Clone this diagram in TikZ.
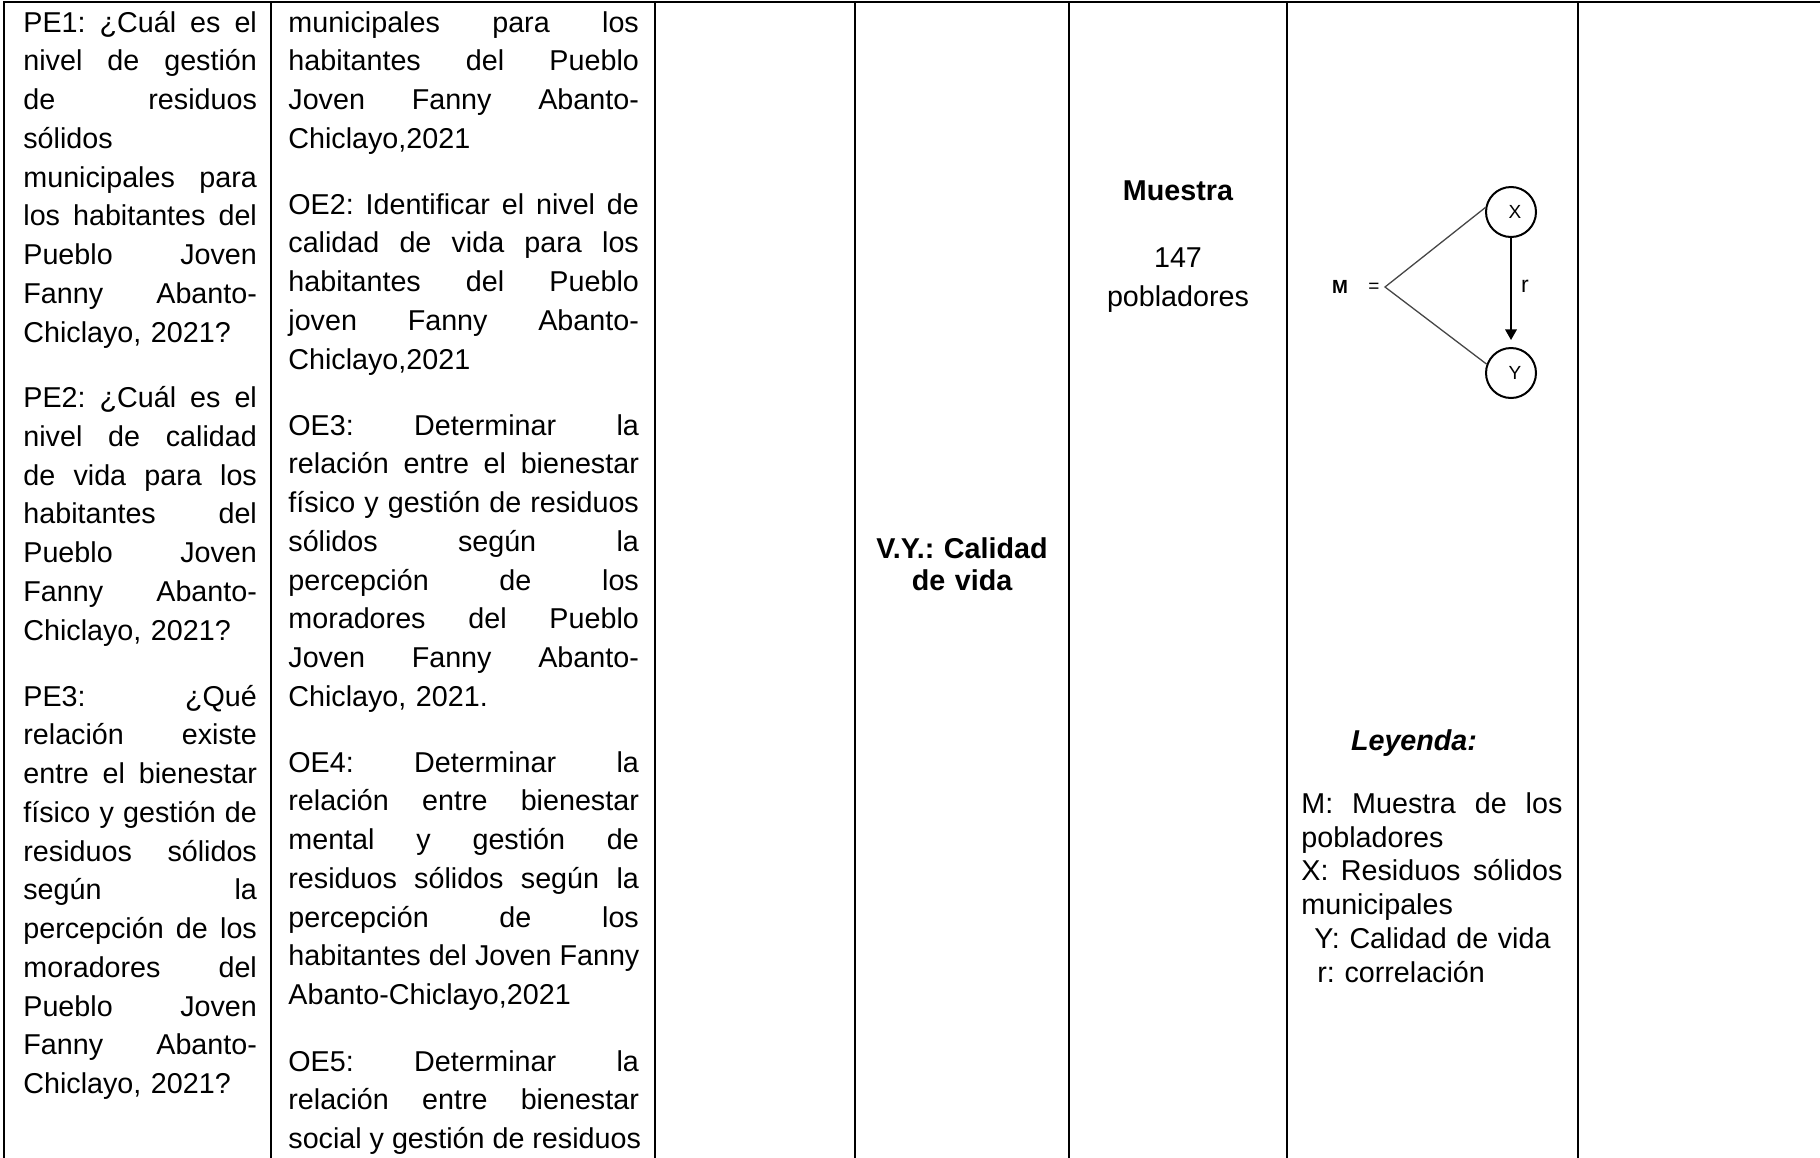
\documentclass[tikz,border=0pt]{standalone}
\usepackage{fontspec}
\setmainfont{Liberation Sans}
\usepackage{tikz}
\usetikzlibrary{arrows.meta,positioning}
\definecolor{diaggray}{RGB}{70,70,70}
\frenchspacing

% one justified line of a cell
\newcommand{\jl}[1]{\leavevmode\hbox to \hsize{\spaceskip=\fontdimen2\font plus 1fil\xspaceskip=\spaceskip #1}}

\begin{document}
\begin{tikzpicture}[x=0.5pt,y=-0.5pt,
  tableline/.style={line width=1.2pt, line cap=rect},
  celltext/.style={inner sep=0pt, anchor=base west, align=left,
    font=\fontsize{14.35pt}{19.375pt}\selectfont},
  smalltext/.style={inner sep=0pt, font=\fontsize{9.5pt}{11pt}\selectfont},
  varcirc/.style={draw, circle, line width=1pt, minimum size=25pt, inner sep=0pt,
    font=\fontsize{9.5pt}{11pt}\selectfont}]
  \useasboundingbox (0,0) rectangle (1820,1157);

  % Table rules
  \draw[tableline] (4,2) -- (1820,2);
  \foreach \cx in {4,271,655,855,1069,1287,1578}
    \draw[tableline] (\cx,2) -- (\cx,1157);

  % Problemas especificos
  \node[celltext, text width=116.75pt] (pe1) at (23,32) {
    \jl{PE1: ¿Cuál es el}\\ \jl{nivel de gestión}\\ \jl{de residuos}\\ sólidos\\
    \jl{municipales para}\\ \jl{los habitantes del}\\ \jl{Pueblo Joven}\\
    \jl{Fanny Abanto-}\\ Chiclayo, 2021?};
  \node[celltext, text width=116.75pt] (pe2) at (23,407.5) {
    \jl{PE2: ¿Cuál es el}\\ \jl{nivel de calidad}\\ \jl{de vida para los}\\
    \jl{habitantes del}\\ \jl{Pueblo Joven}\\ \jl{Fanny Abanto-}\\ Chiclayo, 2021?};
  \node[celltext, text width=116.75pt] (pe3) at (23,706) {
    \jl{PE3: ¿Qué}\\ \jl{relación existe}\\ \jl{entre el bienestar}\\
    \jl{físico y gestión de}\\ \jl{residuos sólidos}\\ \jl{según la}\\
    \jl{percepción de los}\\ \jl{moradores del}\\ \jl{Pueblo Joven}\\
    \jl{Fanny Abanto-}\\ Chiclayo, 2021?};

  % Objetivos especificos
  \node[celltext, text width=175.25pt] (oe1) at (288,32) {
    \jl{municipales para los}\\ \jl{habitantes del Pueblo}\\ \jl{Joven Fanny Abanto-}\\
    Chiclayo,2021};
  \node[celltext, text width=175.25pt] (oe2) at (288,214) {
    \jl{OE2: Identificar el nivel de}\\ \jl{calidad de vida para los}\\
    \jl{habitantes del Pueblo}\\ \jl{joven Fanny Abanto-}\\ Chiclayo,2021};
  \node[celltext, text width=175.25pt] (oe3) at (288,435) {
    \jl{OE3: Determinar la}\\ \jl{relación entre el bienestar}\\
    \jl{físico y gestión de residuos}\\ \jl{sólidos según la}\\ \jl{percepción de los}\\
    \jl{moradores del Pueblo}\\ \jl{Joven Fanny Abanto-}\\ Chiclayo, 2021.};
  \node[celltext, text width=175.25pt] (oe4) at (288,772) {
    \jl{OE4: Determinar la}\\ \jl{relación entre bienestar}\\ \jl{mental y gestión de}\\
    \jl{residuos sólidos según la}\\ \jl{percepción de los}\\
    \jl{habitantes del Joven Fanny}\\ Abanto-Chiclayo,2021};
  \node[celltext, text width=175.25pt] (oe5) at (288,1071) {
    \jl{OE5: Determinar la}\\ \jl{relación entre bienestar}\\
    \jl{social y gestión de residuos}};

  % Variable
  \node[celltext, anchor=base, text width=100pt, align=center,
    font=\fontsize{14.35pt}{16.25pt}\selectfont\bfseries] (vy) at (962,558)
    {V.Y.: Calidad\\ de vida};

  % Muestra
  \node[celltext, anchor=base, font=\fontsize{14.35pt}{19.375pt}\selectfont\bfseries]
    (muestra) at (1178,200) {Muestra};
  \node[celltext, anchor=base, text width=100pt, align=center] (pobl) at (1178,267.5)
    {147\\ pobladores};

  % Diseno correlacional
  \node[varcirc] (nx) at (1511,212) {\hspace{4pt}X};
  \node[varcirc] (ny) at (1511,373) {\hspace{4pt}Y};
  \node[smalltext, font=\fontsize{9.5pt}{11pt}\selectfont\bfseries] (nm) at (1340,287) {M};
  \node[smalltext] (eq) at (1374,288) {=};
  \coordinate (mp) at (1385,287);
  \draw[diaggray, line width=0.65pt] (nx.170) -- (mp) -- (ny.160);
  \draw[line width=0.8pt, -{Triangle[length=5.3pt,width=5.8pt]}, shorten >=3.5pt]
    (nx) -- (ny);
  \node[inner sep=0pt, font=\fontsize{11.5pt}{13pt}\selectfont] (nr) at (1525,286) {r};

  % Leyenda
  \node[celltext, anchor=base, font=\fontsize{14.35pt}{19.375pt}\selectfont\bfseries\itshape]
    (leyenda) at (1414,750) {Leyenda:};
  \node[celltext, text width=130.5pt, font=\fontsize{14.35pt}{16.85pt}\selectfont]
    (legend) at (1301,813.5) {
    \jl{M: Muestra de los}\\ pobladores\\ \jl{X: Residuos sólidos}\\ municipales\\
    \hspace*{6.5pt}Y: Calidad de vida\\ \hspace*{8pt}r: correlación};
\end{tikzpicture}
\end{document}
